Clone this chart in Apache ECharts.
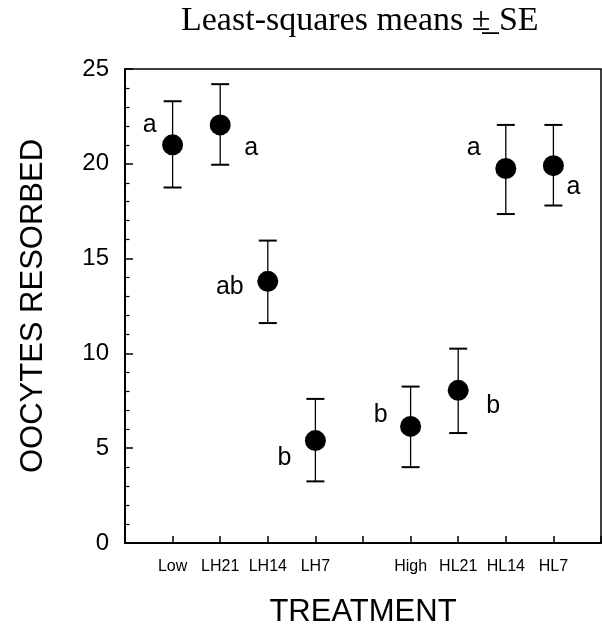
<!DOCTYPE html>
<html>
<head>
<meta charset="utf-8">
<script src="https://cdn.jsdelivr.net/npm/echarts@6/dist/echarts.min.js"></script>
<style>
  html, body { margin: 0; padding: 0; background: #fff; }
  #chart { width: 602px; height: 629px; }
</style>
</head>
<body>
<div id="chart"></div>
<script>
// treatments sit on positions 1-4 and 6-9, slot 5 is left empty
const positions = [1, 2, 3, 4, 6, 7, 8, 9];
const treatments = ['Low', 'LH21', 'LH14', 'LH7', 'High', 'HL21', 'HL14', 'HL7'];
const means = [21.0, 22.05, 13.8, 5.4, 6.15, 8.05, 19.75, 19.9];
const upper = [23.3, 24.2, 15.95, 7.6, 8.25, 10.25, 22.05, 22.05];
const lower = [18.75, 19.95, 11.6, 3.25, 4.0, 5.8, 17.35, 17.8];
const letters = ['a', 'a', 'ab', 'b', 'b', 'b', 'a', 'a'];

const yTicks = [0, 5, 10, 15, 20, 25];

// where each letter sits relative to its point
const letterOffsets = [[-23, -20], [31, 23], [-38, 6], [-31, 17], [-30, -11], [35, 16], [-32, -20], [20, 21]];

const sansFont = '"Liberation Sans", Arial, sans-serif';

const chart = echarts.init(document.getElementById('chart'));

const meanData = positions.map((x, i) => ({
  value: [x, means[i]],
  label: {
    show: true,
    formatter: letters[i],
    position: 'inside',
    offset: letterOffsets[i],
    color: '#000',
    fontSize: 25,
    fontFamily: sansFont
  }
}));

const errData = positions.map((x, i) => [x, lower[i], upper[i]]);

chart.setOption({
  backgroundColor: '#fff',
  animation: false,
  title: {
    text: 'Least-squares means \u00b1\u0332 SE',
    left: 181,
    top: 4,
    padding: 0,
    textStyle: {
      fontFamily: '"Liberation Serif", "Times New Roman", serif',
      fontWeight: 'normal',
      fontSize: 34,
      color: '#000'
    }
  },
  grid: {
    left: 125,
    right: 1,
    top: 69,
    bottom: 86,
    show: true,
    borderColor: '#000',
    borderWidth: 1.5,
    outerBoundsMode: 'none'
  },
  xAxis: {
    type: 'value',
    min: 0,
    max: 10,
    interval: 1,
    name: 'TREATMENT',
    nameLocation: 'middle',
    nameGap: 54,
    nameTextStyle: { fontFamily: sansFont, fontSize: 31, color: '#000', verticalAlign: 'top' },
    axisLine: { lineStyle: { color: '#000', width: 2 } },
    axisTick: { inside: true, length: 7, lineStyle: { color: '#000', width: 1.5 } },
    axisLabel: {
      margin: 16,
      fontFamily: sansFont,
      fontSize: 16,
      color: '#000',
      formatter: v => {
        const i = positions.indexOf(v);
        return i >= 0 ? treatments[i] : '';
      }
    },
    splitLine: { show: false }
  },
  yAxis: {
    type: 'value',
    min: 0,
    max: 25,
    interval: 5,
    name: 'OOCYTES RESORBED',
    nameLocation: 'middle',
    nameRotate: 90,
    nameGap: 76,
    nameTextStyle: { fontFamily: sansFont, fontSize: 31, color: '#000' },
    axisLine: { lineStyle: { color: '#000', width: 2 } },
    axisTick: { inside: true, length: 8, lineStyle: { color: '#000', width: 1.5 } },
    minorTick: { show: true, splitNumber: 5, length: 4.5, lineStyle: { color: '#000', width: 1.2 } },
    axisLabel: {
      margin: 16,
      fontFamily: sansFont,
      fontSize: 24,
      color: '#000',
      formatter: v => (yTicks.indexOf(v) >= 0 ? String(v) : '')
    },
    splitLine: { show: false }
  },
  series: [
    {
      type: 'custom',
      name: 'SE',
      data: errData,
      encode: { x: 0, y: [1, 2] },
      renderItem: (params, api) => {
        const x = api.value(0);
        const lo = api.coord([x, api.value(1)]);
        const hi = api.coord([x, api.value(2)]);
        const half = 9;
        const style = { stroke: '#000', lineWidth: 1.3 };
        const capStyle = { stroke: '#000', lineWidth: 2 };
        return {
          type: 'group',
          children: [
            { type: 'line', shape: { x1: lo[0], y1: lo[1], x2: hi[0], y2: hi[1] }, style },
            { type: 'line', shape: { x1: lo[0] - half, y1: lo[1], x2: lo[0] + half, y2: lo[1] }, style: capStyle },
            { type: 'line', shape: { x1: hi[0] - half, y1: hi[1], x2: hi[0] + half, y2: hi[1] }, style: capStyle }
          ]
        };
      },
      z: 2
    },
    {
      type: 'scatter',
      name: 'mean',
      data: meanData,
      symbol: 'circle',
      symbolSize: 21,
      itemStyle: { color: '#000', opacity: 1 },
      z: 3
    }
  ]
});
</script>
</body>
</html>
